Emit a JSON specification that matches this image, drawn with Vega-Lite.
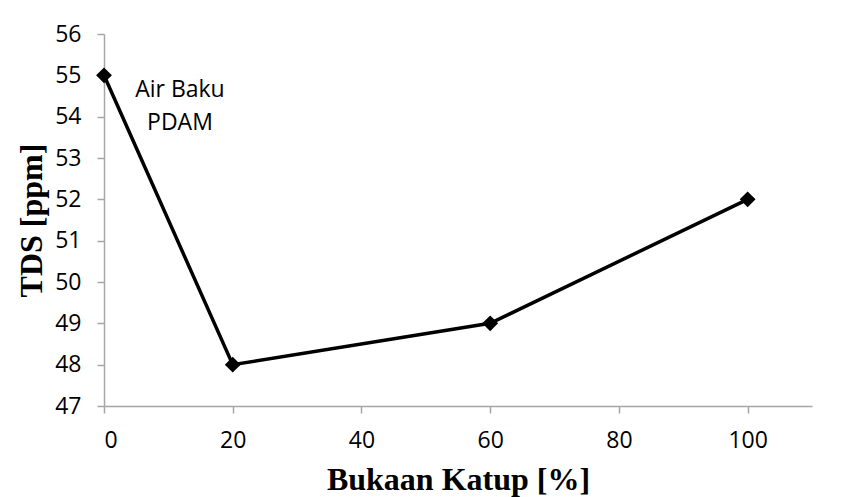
{
  "$schema": "https://vega.github.io/schema/vega-lite/v6.json",
  "width": 708,
  "height": 372,
  "autosize": {"type": "none"},
  "padding": {"left": 104, "top": 34, "right": 33, "bottom": 91},
  "background": "white",
  "config": {"view": {"stroke": null}},
  "datasets": {
    "tds": [
      {"bukaan": 0, "tds": 55},
      {"bukaan": 20, "tds": 48},
      {"bukaan": 60, "tds": 49},
      {"bukaan": 100, "tds": 52}
    ],
    "notes": [
      {"bukaan": 11.8, "tds": 54.64, "label": "Air Baku"},
      {"bukaan": 11.8, "tds": 53.84, "label": "PDAM"}
    ]
  },
  "layer": [
    {
      "data": {"name": "tds"},
      "mark": {"type": "line", "color": "black", "strokeWidth": 3.5},
      "encoding": {
        "x": {
          "field": "bukaan", "type": "quantitative",
          "scale": {"domain": [0, 110], "nice": false},
          "axis": {
            "values": [0, 20, 40, 60, 80, 100],
            "title": "Bukaan Katup [%]",
            "titleFont": "Liberation Serif", "titleFontSize": 32, "titleFontWeight": "bold", "titleColor": "black",
            "titlePadding": 12,
            "labelFont": "Open Sans", "labelFontSize": 23, "labelColor": "black", "labelPadding": 16,
            "grid": false, "domainColor": "#a6a6a6", "tickColor": "#a6a6a6", "tickSize": 7, "domainWidth": 1.5, "tickWidth": 1.5
          }
        },
        "y": {
          "field": "tds", "type": "quantitative",
          "scale": {"domain": [47, 56], "nice": false, "zero": false},
          "axis": {
            "values": [47, 48, 49, 50, 51, 52, 53, 54, 55, 56],
            "title": "TDS [ppm]",
            "titleFont": "Liberation Serif", "titleFontSize": 32, "titleFontWeight": "bold", "titleColor": "black",
            "titlePadding": 6,
            "labelFont": "Open Sans", "labelFontSize": 23, "labelColor": "black", "labelPadding": 16,
            "grid": false, "domainColor": "#a6a6a6", "tickColor": "#a6a6a6", "tickSize": 7, "domainWidth": 1.5, "tickWidth": 1.5
          }
        }
      }
    },
    {
      "data": {"name": "tds"},
      "mark": {"type": "point", "shape": "diamond", "filled": true, "color": "black", "size": 250, "opacity": 1},
      "encoding": {
        "x": {"field": "bukaan", "type": "quantitative"},
        "y": {"field": "tds", "type": "quantitative"}
      }
    },
    {
      "data": {"name": "notes"},
      "mark": {"type": "text", "font": "Open Sans", "fontSize": 23, "color": "black", "align": "center", "baseline": "middle"},
      "encoding": {
        "x": {"field": "bukaan", "type": "quantitative"},
        "y": {"field": "tds", "type": "quantitative"},
        "text": {"field": "label"}
      }
    }
  ]
}
